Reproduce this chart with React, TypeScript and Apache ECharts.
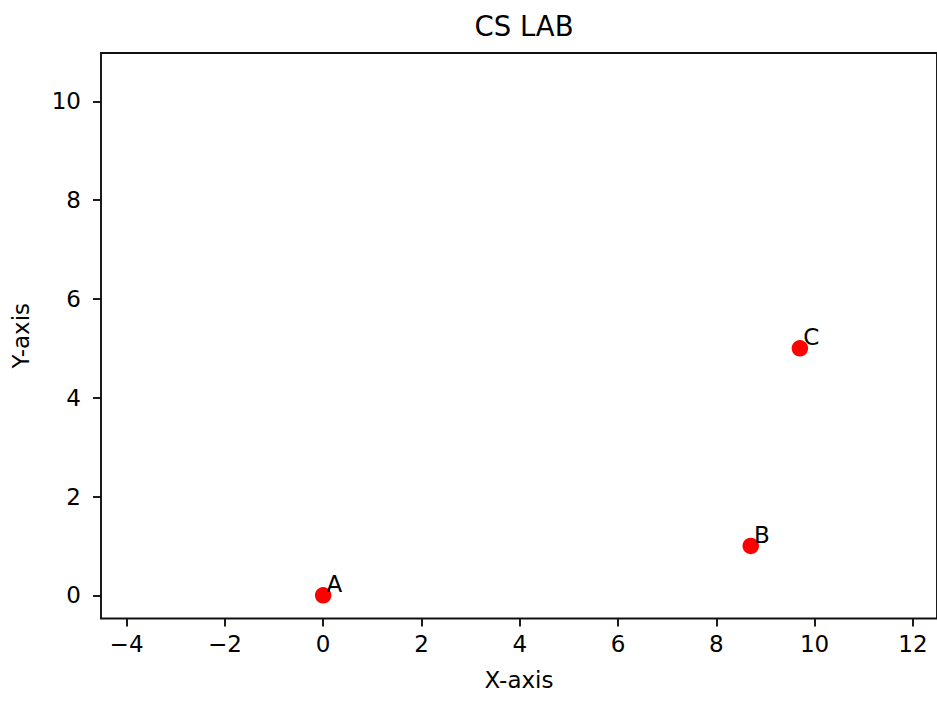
import React, { useEffect, useRef } from "react";
import * as echarts from "echarts";

const pointLabels = ["A", "B", "C"];
const xValues = [0, 8.7, 9.7];
const yValues = [0, 1, 5];
const xTicks = [-4, -2, 0, 2, 4, 6, 8, 10, 12];
const yTicks = [0, 2, 4, 6, 8, 10];
const titleText = "CS LAB";
const xName = "X-axis";
const yName = "Y-axis";

const FONT = "DejaVu Sans";
const fmt = (v: number) => (v < 0 ? "\u2212" + Math.abs(v) : String(v));

export default function App() {
  const ref = useRef<HTMLDivElement>(null);
  useEffect(() => {
    if (!ref.current) return;
    const chart = echarts.init(ref.current, undefined, { renderer: "svg" });
    chart.setOption({
      animation: false,
      backgroundColor: "#fff",
      title: {
        text: titleText,
        left: 519,
        top: 7,
        textAlign: "center",
        textStyle: { fontFamily: FONT, fontSize: 27.5, fontWeight: "normal", color: "#000" },
      },
      grid: {
        left: 101,
        top: 53,
        width: 837,
        height: 565.5,
        show: true,
        borderColor: "#111",
        borderWidth: 1.9,
        containLabel: false,
      },
      xAxis: {
        type: "value",
        min: -4.52,
        max: 12.49,
        name: xName,
        nameLocation: "middle",
        nameGap: 50,
        nameTextStyle: { fontFamily: FONT, fontSize: 23, color: "#000" },
        axisLine: { show: false, onZero: false },
        splitLine: { show: false },
        axisTick: {
          show: true,
          customValues: xTicks,
          length: 8,
          lineStyle: { color: "#111", width: 1.9 },
        },
        axisLabel: {
          customValues: xTicks,
          formatter: (v: number) => fmt(v),
          margin: 14,
          fontFamily: FONT,
          fontSize: 23,
          color: "#000",
        },
      },
      yAxis: {
        type: "value",
        min: -0.47,
        max: 10.98,
        name: yName,
        nameLocation: "middle",
        nameGap: 69,
        nameTextStyle: { fontFamily: FONT, fontSize: 23, color: "#000" },
        axisLine: { show: false, onZero: false },
        splitLine: { show: false },
        axisTick: {
          show: true,
          customValues: yTicks,
          length: 8,
          lineStyle: { color: "#111", width: 1.9 },
        },
        axisLabel: {
          customValues: yTicks,
          formatter: (v: number) => fmt(v),
          margin: 20,
          fontFamily: FONT,
          fontSize: 23,
          color: "#000",
        },
      },
      series: [
        {
          type: "scatter",
          symbol: "circle",
          symbolSize: 16.5,
          itemStyle: { color: "#ff0000", opacity: 1 },
          data: xValues.map((x, i) => ({ name: pointLabels[i], value: [x, yValues[i]] })),
          label: {
            show: true,
            formatter: (p: any) => p.name,
            position: [11.5, 8.5],
            align: "left",
            verticalAlign: "bottom",
            fontFamily: FONT,
            fontSize: 23,
            color: "#000",
          },
        },
      ],
    });
    return () => chart.dispose();
  }, []);
  return (
    <div
      ref={ref}
      style={{ position: "fixed", left: 0, top: 0, width: 937, height: 702, background: "#fff" }}
    />
  );
}
